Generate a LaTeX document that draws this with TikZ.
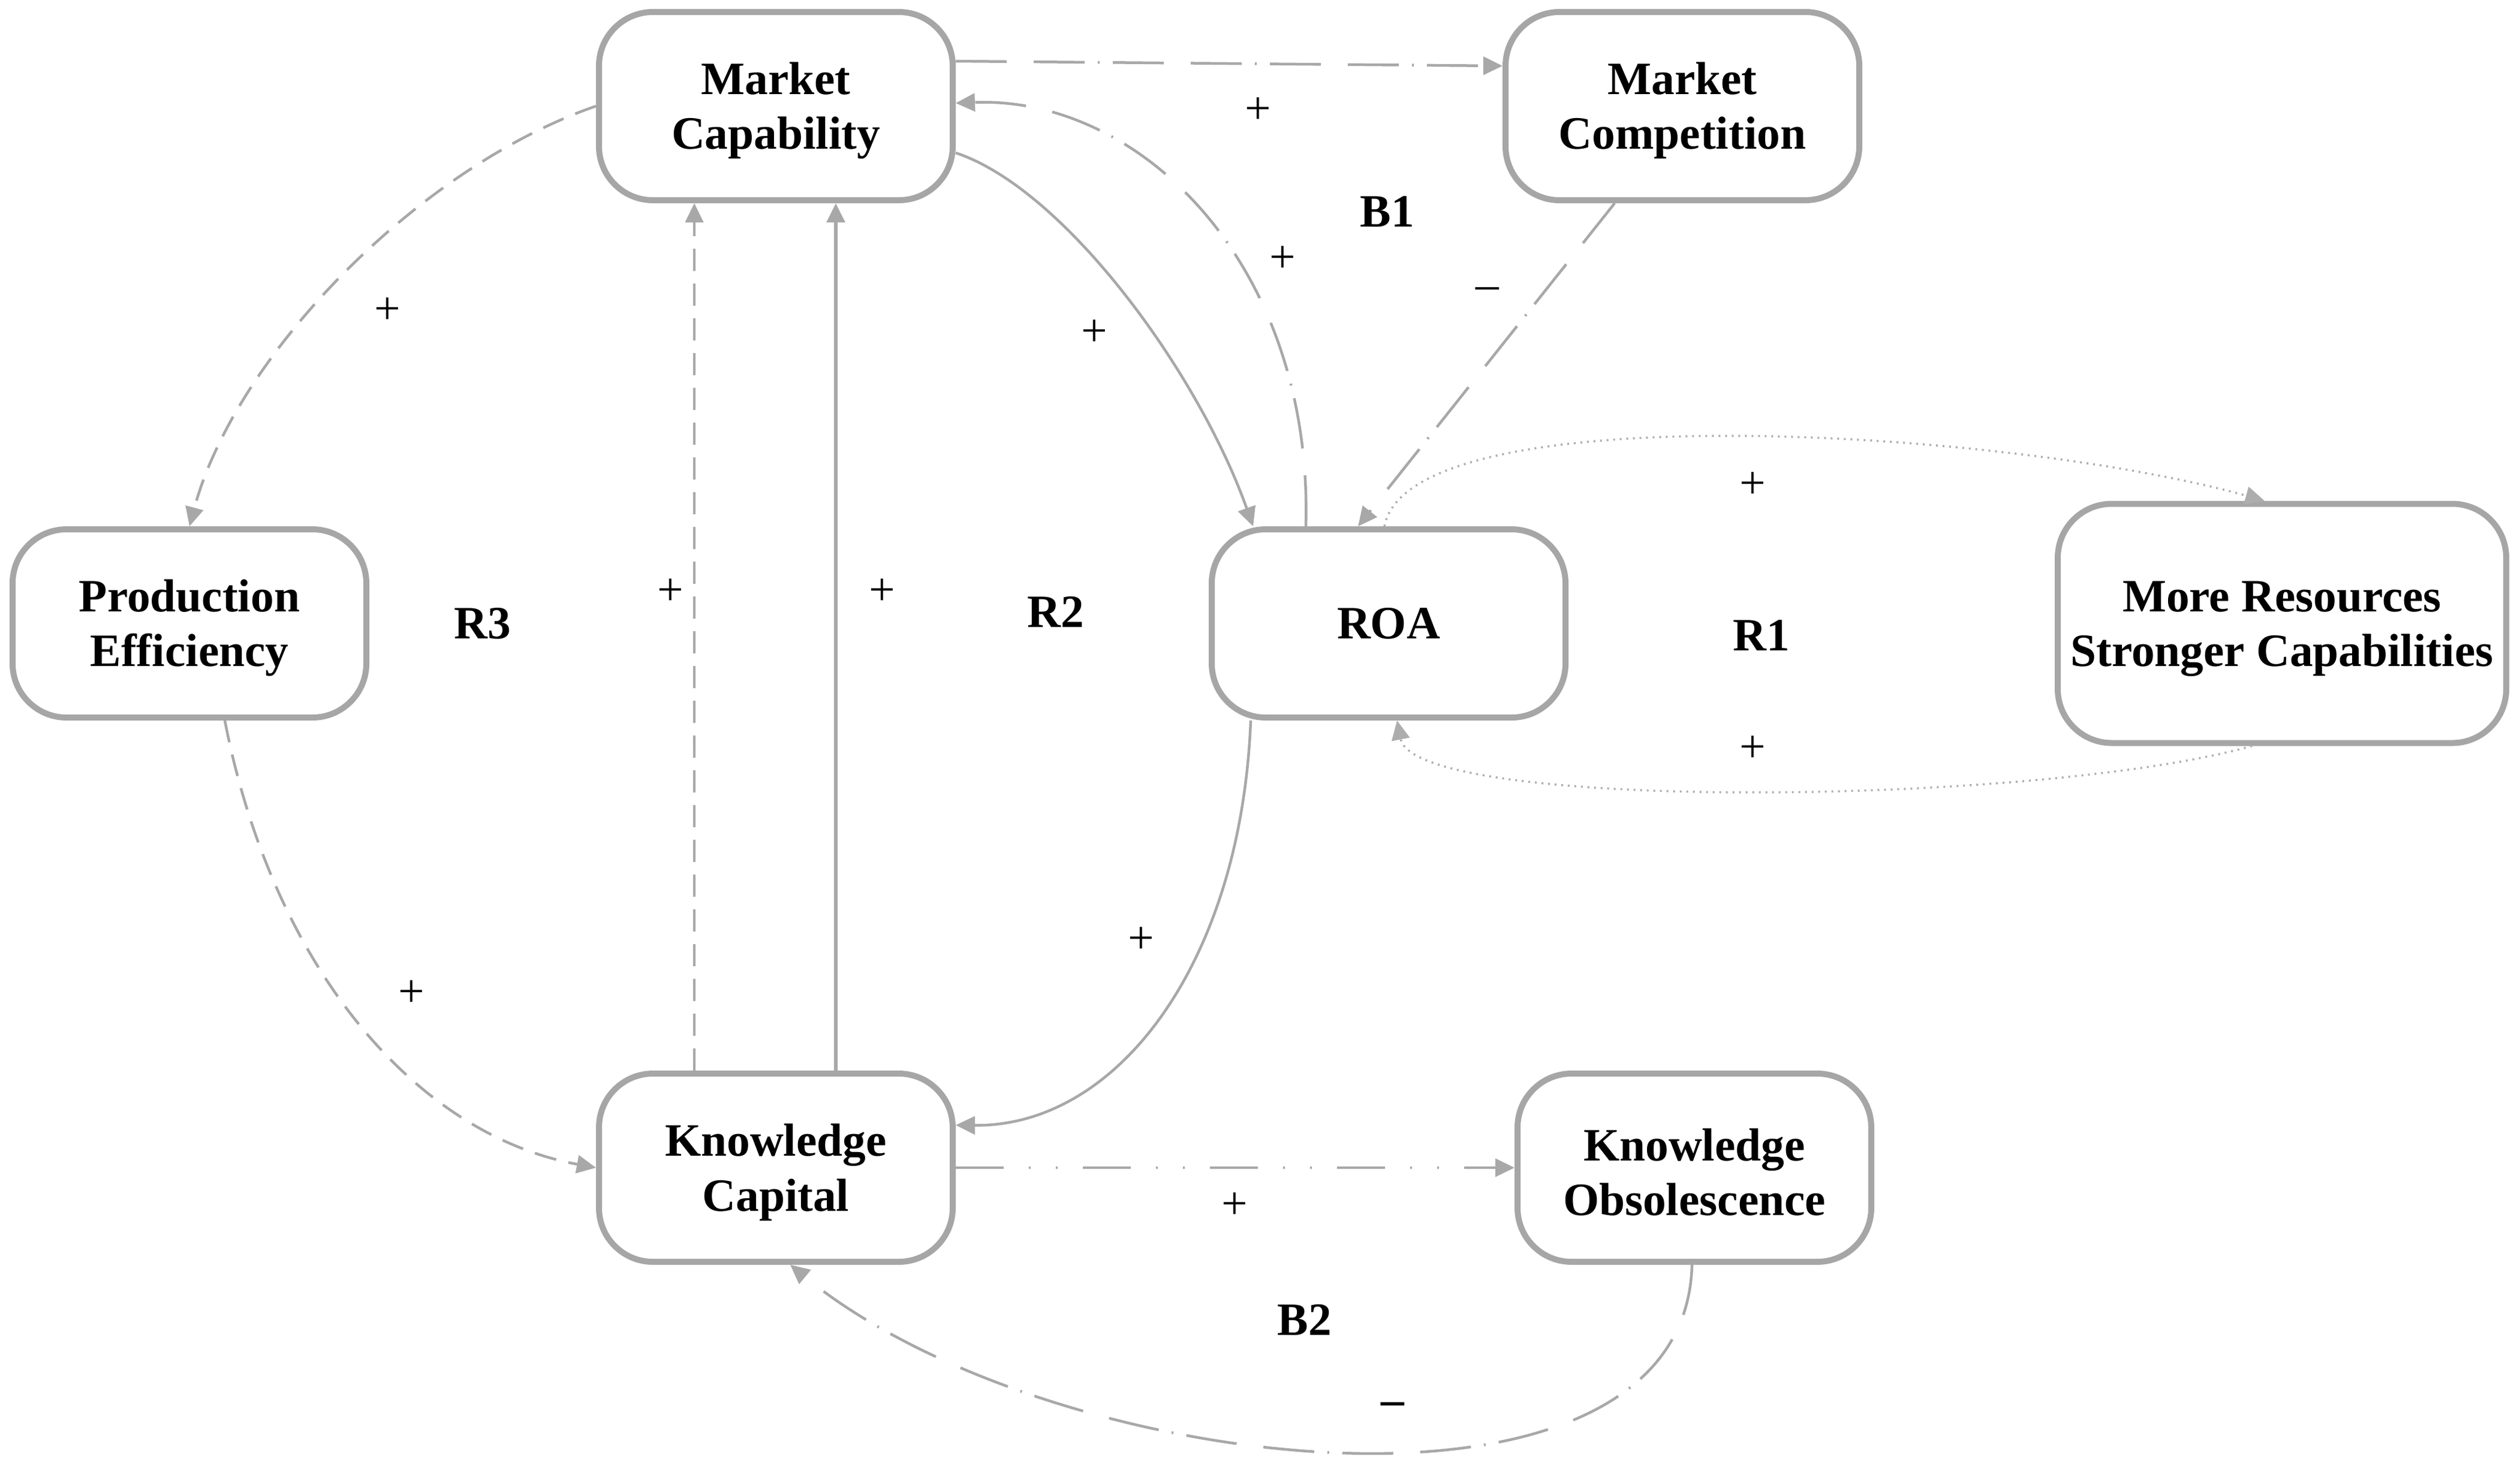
\documentclass[tikz,border=0pt]{standalone}
\usepackage{fontspec}
\setmainfont{Liberation Serif}
\usetikzlibrary{arrows.meta}
\definecolor{boxgray}{HTML}{A6A6A6}
\definecolor{linegray}{HTML}{A8A8A8}
\definecolor{dotgray}{HTML}{ADADAD}
\newcommand{\topstrut}{\rule{0pt}{0.69cm}}
\begin{document}
\begin{tikzpicture}[
  var/.style={draw=boxgray, line width=0.10cm, rounded corners=0.9cm,
    minimum width=5.9cm, minimum height=3.14cm, inner sep=2pt, align=center,
    fill=white, font=\fontsize{22}{26}\selectfont\bfseries},
  loopname/.style={inner sep=0pt, font=\fontsize{22}{26}\selectfont\bfseries},
  pol/.style={inner sep=0pt, font=\fontsize{22}{26}\selectfont},
  conn/.style={draw=linegray, line width=0.045cm,
    -{Triangle[length=0.32cm,width=0.30cm]}},
  ddot/.style={dash pattern=on 0.85cm off 0.45cm on 0.85cm off 0.22cm on 0.03cm off 0.22cm},
  dddot/.style={dash pattern=on 0.8cm off 0.42cm on 0.03cm off 0.42cm on 0.03cm off 0.42cm},
  dsh/.style={dash pattern=on 0.37cm off 0.21cm},
  dts/.style={draw=dotgray, line width=0.035cm, dash pattern=on 0.03cm off 0.08cm},
  thick solid/.style={line width=0.06cm}
]
\useasboundingbox (0,0) rectangle (42.03,-24.38);

% variables
\node[var] (mc) at (12.94,-1.77) {\topstrut Market\\Capability};
\node[var] (mcomp) at (28.06,-1.77) {\topstrut Market\\Competition};
\node[var] (pe) at (3.16,-10.40) {\topstrut Production\\Efficiency};
\node[var] (roa) at (23.16,-10.40) {ROA};
\node[var, minimum width=7.48cm, minimum height=3.99cm] (mr) at (38.06,-10.40) {\topstrut More Resources\\Stronger Capabilities};
\node[var] (kc) at (12.94,-19.48) {\topstrut Knowledge\\Capital};
\node[var] (ko) at (28.26,-19.48) {\topstrut Knowledge\\Obsolescence};

% connectors
\draw[conn, ddot] ([yshift=0.75cm]mc.east) -- ([yshift=0.67cm]mcomp.west);
\draw[conn, ddot] ([xshift=-1.38cm]roa.north) .. controls +(0.12,4.33) and +(3.11,0.12) .. ([yshift=0.05cm]mc.east);
\draw[conn] ([yshift=-0.78cm]mc.east) .. controls +(1.81,-0.6) and +(-0.92,2.58) .. ([xshift=-2.26cm]roa.north);
\draw[conn, ddot] ([xshift=-1.13cm]mcomp.south) -- ([xshift=-0.51cm]roa.north);
\draw[conn, dts] ([xshift=-0.07cm]roa.north) .. controls +(0.41,2.23) and +(-4.27,1.2) .. ([xshift=-0.29cm]mr.north);
\draw[conn, dts] ([xshift=-0.5cm]mr.south) .. controls +(-3.56,-1.0) and +(0.3,-1.53) .. ([xshift=0.14cm]roa.south);
\draw[conn, dsh] (mc.west) .. controls +(-2.98,-1.03) and +(0.76,2.83) .. (pe.north);
\draw[conn, dsh] ([xshift=0.59cm]pe.south) .. controls +(0.79,-4.07) and +(-3.04,0.56) .. (kc.west);
\draw[conn, dsh] ([xshift=-1.36cm]kc.north) -- ([xshift=-1.36cm]mc.south);
\draw[conn, thick solid] ([xshift=1.0cm]kc.north) -- ([xshift=1.0cm]mc.south);
\draw[conn] ([xshift=-2.30cm]roa.south) .. controls +(-0.16,-4.03) and +(2.71,-0.03) .. ([yshift=0.71cm]kc.east);
\draw[conn, dddot] (kc.east) -- (ko.west);
\draw[conn, ddot] ([xshift=-0.04cm]ko.south) .. controls +(-0.12,-4.75) and +(4.32,-3.55) .. ([xshift=0.24cm]kc.south);

% polarity signs
\node[pol] (p1) at (20.98,-1.85) {+};
\node[pol] (p2) at (21.39,-4.33) {+};
\node[pol] (m1) at (24.81,-4.90) {–};
\node[pol] (p3) at (6.46,-5.19) {+};
\node[pol] (p4) at (18.25,-5.56) {+};
\node[pol] (p5) at (29.23,-8.10) {+};
\node[pol] (p6) at (11.18,-9.88) {+};
\node[pol] (p7) at (14.71,-9.88) {+};
\node[pol] (p8) at (29.23,-12.50) {+};
\node[pol] (p9) at (19.03,-15.69) {+};
\node[pol] (p10) at (6.86,-16.58) {+};
\node[pol] (p11) at (20.59,-20.12) {+};
\node[pol] (m2) at (23.23,-23.50) {\textbf{–}};

% loop names
\node[loopname] (B1) at (23.14,-3.53) {B1};
\node[loopname] (R3) at (8.05,-10.40) {R3};
\node[loopname] (R2) at (17.61,-10.21) {R2};
\node[loopname] (R1) at (29.38,-10.60) {R1};
\node[loopname] (B2) at (21.76,-22.02) {B2};
\end{tikzpicture}
\end{document}
